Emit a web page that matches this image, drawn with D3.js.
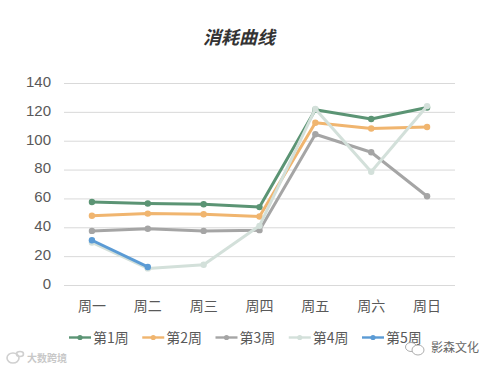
<!DOCTYPE html>
<html>
<head>
<meta charset="utf-8">
<script src="https://cdn.jsdelivr.net/npm/d3@7"></script>
<style>
  html, body { margin: 0; padding: 0; background: #fff; }
  text { font-family: "Noto Sans CJK SC", "Noto Sans", sans-serif; }
</style>
</head>
<body>
<svg id="chart" width="494" height="369"></svg>
<script>
var days = ["周一", "周二", "周三", "周四", "周五", "周六", "周日"];
var y_ticks = [0, 20, 40, 60, 80, 100, 120, 140];
var week_names = ["第1周", "第2周", "第3周", "第4周", "第5周"];
var week_colors = ["#5b9474", "#f0b56f", "#a5a5a5", "#d3e0da", "#5b9bd5"];
var week1 = [57.5, 56.5, 56, 54, 121.5, 115, 123];
var week2 = [48, 49.5, 49, 47.5, 112.5, 108.5, 109.5];
var week3 = [37.5, 39, 37.5, 38, 104.5, 92, 61.5];
var week4 = [29.5, 11.5, 14, 41, 122, 78.5, 124];
var week5 = [31, 12.5];
var weeks = [week1, week2, week3, week4, week5];

var svg = d3.select("#chart");

var x = d3.scaleBand().domain(days).range([64, 455]);
var y = d3.scaleLinear().domain([0, 140]).range([285, 83]);
var dayX = function(d) { return x(d) + x.bandwidth() / 2; };

svg.append("text")
  .attr("x", 239).attr("y", 44)
  .attr("text-anchor", "middle")
  .attr("font-size", 18).attr("font-weight", "bold").attr("font-style", "italic")
  .attr("fill", "#333")
  .text("消耗曲线");

// grid lines + y labels
var yAxis = svg.append("g")
  .attr("transform", "translate(64,0)")
  .call(d3.axisLeft(y).tickValues(y_ticks).tickSize(-391).tickPadding(13));
yAxis.select(".domain").remove();
yAxis.selectAll("line").attr("stroke", "#d9d9d9");
yAxis.selectAll("text").attr("font-size", 15).attr("fill", "#595959").attr("dy", "0.22em")
  .style("font-family", "'Liberation Sans', sans-serif");

// x labels
var xAxis = svg.append("g")
  .attr("transform", "translate(0,285)")
  .call(d3.axisBottom(x).tickSize(0).tickPadding(16));
xAxis.select(".domain").remove();
xAxis.selectAll("text").attr("font-size", 14).attr("fill", "#595959");

var line = d3.line()
  .x(function(d, i) { return dayX(days[i]); })
  .y(function(d) { return y(d); });

weeks.forEach(function(vals, w) {
  var g = svg.append("g").attr("class", "series");
  g.append("path")
    .attr("d", line(vals))
    .attr("fill", "none")
    .attr("stroke", week_colors[w])
    .attr("stroke-width", 3)
    .attr("stroke-linejoin", "round");
  g.selectAll("circle")
    .data(vals)
   .enter().append("circle")
    .attr("cx", function(d, i) { return dayX(days[i]); })
    .attr("cy", function(d) { return y(d); })
    .attr("r", 3.2)
    .attr("fill", week_colors[w]);
});

// legend
var legendX = d3.scaleLinear().domain([0, 4]).range([69, 362]);
var legend = svg.selectAll(".legend")
  .data(week_names)
 .enter().append("g")
  .attr("class", "legend")
  .attr("transform", function(d, i) { return "translate(" + legendX(i) + ",337.5)"; });
legend.append("line")
  .attr("x1", 0).attr("x2", 22)
  .attr("stroke", function(d, i) { return week_colors[i]; })
  .attr("stroke-width", 2.4);
legend.append("circle")
  .attr("cx", 11).attr("r", 2.6)
  .attr("fill", function(d, i) { return week_colors[i]; });
legend.append("text")
  .attr("x", 24).attr("y", 5)
  .attr("font-size", 14).attr("fill", "#595959")
  .text(function(d) { return d; });

// watermarks
svg.append("text")
  .attr("x", 431).attr("y", 352)
  .attr("font-size", 12).attr("fill", "#666")
  .text("影森文化");
svg.append("text")
  .attr("x", 27).attr("y", 362)
  .attr("font-size", 10).attr("font-weight", "bold").attr("fill", "#c8c8c8")
  .text("大数跨境");

// small wechat icon next to the right watermark
var icon = svg.append("g").attr("fill", "#fff").attr("stroke", "#999").attr("stroke-width", 0.8);
icon.append("ellipse").attr("cx", 411).attr("cy", 347).attr("rx", 5.5).attr("ry", 4.5);
icon.append("ellipse").attr("cx", 418).attr("cy", 350).attr("rx", 6).attr("ry", 5);
// and the faint one at bottom left
var icon2 = svg.append("g").attr("fill", "none").attr("stroke", "#d0d0d0").attr("stroke-width", 1.6);
icon2.append("ellipse").attr("cx", 13).attr("cy", 358).attr("rx", 6).attr("ry", 5);
icon2.append("ellipse").attr("cx", 20).attr("cy", 354).attr("rx", 3.5).attr("ry", 2.5);
</script>
</body>
</html>
